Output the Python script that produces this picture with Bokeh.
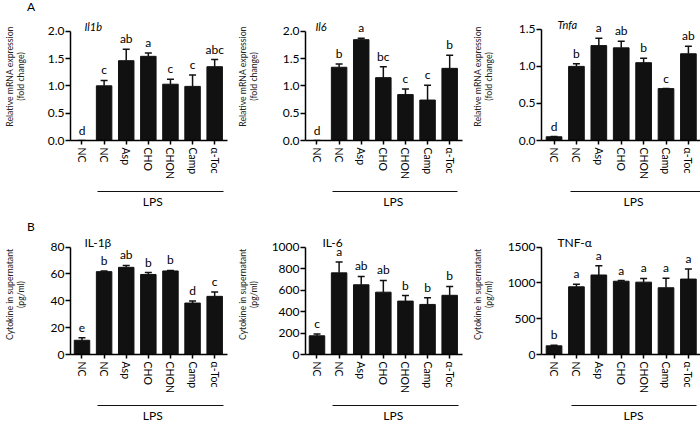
from bokeh.plotting import figure
from bokeh.models import (ColumnDataSource, FixedTicker, LinearAxis, Whisker, TeeHead,
                          LabelSet, Label, Range1d, NumeralTickFormatter, Div)
from bokeh.layouts import column, row
from bokeh.embed import file_html
from bokeh.resources import INLINE
from bokeh.core.properties import value

# ---------------- data ----------------
groups = ["NC", "NC", "Asp", "CHO", "CHON", "Camp", "α-Toc"]

il1b_mean = [0.0, 1.00, 1.46, 1.54, 1.03, 0.99, 1.35]
il1b_err = [0.0, 0.10, 0.21, 0.06, 0.09, 0.21, 0.13]
il1b_sig = ["d", "c", "ab", "a", "c", "c", "abc"]

il6_mean = [0.0, 1.34, 1.845, 1.15, 0.84, 0.74, 1.32]
il6_err = [0.0, 0.06, 0.025, 0.20, 0.10, 0.27, 0.24]
il6_sig = ["d", "b", "a", "bc", "c", "c", "b"]

tnfa_mean = [0.05, 1.00, 1.28, 1.25, 1.05, 0.70, 1.17]
tnfa_err = [0.003, 0.035, 0.10, 0.09, 0.06, 0.0, 0.10]
tnfa_sig = ["d", "b", "a", "ab", "b", "c", "ab"]

il1b_prot_mean = [10.6, 61.7, 64.9, 59.6, 62.2, 38.3, 43.3]
il1b_prot_err = [1.8, 0.5, 1.4, 1.4, 0.4, 1.6, 3.3]
il1b_prot_sig = ["e", "b", "ab", "b", "b", "d", "c"]

il6_prot_mean = [174, 760, 649, 580, 497, 466, 551]
il6_prot_err = [17, 100, 77, 109, 52, 63, 83]
il6_prot_sig = ["c", "a", "ab", "ab", "b", "b", "b"]

tnf_prot_mean = [121, 945, 1110, 1023, 1010, 932, 1053]
tnf_prot_err = [9, 35, 130, 9, 52, 134, 139]
tnf_prot_sig = ["b", "a", "a", "a", "a", "a", "a"]

mrna_ticks = [0, 0.5, 1.0, 1.5, 2.0]
tnfa_ticks = [0, 0.5, 1.0, 1.5]
il1b_prot_ticks = [0, 20, 40, 60, 80]
il6_prot_ticks = [0, 200, 400, 600, 800, 1000]
tnf_prot_ticks = [0, 500, 1000, 1500]

mrna_ylabel = "Relative mRNA expression\n(fold change)"
prot_ylabel = "Cytokine in supernatant\n(pg/ml)"
group_label = "LPS"

FONT = "Lato"
INK = "#111111"
SPAN = 7.1


def panel(title, title_italic, title_dx, mean, err, sig, ticks, fmt, ylabel, ylab_standoff,
          W, H, L, R, B, tick_px, x0, bounds, lps_at):
    ymax = ticks[-1]
    frame_h = H - B
    # the frame reaches the top of the figure; the top tick sits tick_px below it
    y_end = ymax * frame_h / (frame_h - tick_px)
    p = figure(width=W, height=H, x_range=Range1d(x0, x0 + SPAN),
               y_range=Range1d(0, y_end), output_backend="svg",
               toolbar_location=None, min_border_left=L, min_border_right=R,
               min_border_top=0, min_border_bottom=B)
    p.grid.visible = False
    p.outline_line_color = None
    p.background_fill_color = "white"
    p.border_fill_color = "white"

    xs = list(range(len(groups)))
    tops = [m + e for m, e in zip(mean, err)]
    src = ColumnDataSource(dict(x=xs, mean=mean, top=tops, sig=sig))
    p.vbar(x="x", top="mean", width=0.7, source=src,
           fill_color=INK, line_color=INK, line_width=1)
    p.add_layout(Whisker(source=src, base="x", lower="mean", upper="top",
                         dimension="height", line_color=INK, line_width=1.5,
                         upper_head=TeeHead(size=7, line_width=1.5, line_color=INK),
                         lower_head=None))
    p.add_layout(LabelSet(source=src, x="x", y="top", text="sig", y_offset=6,
                          text_align="center", text_baseline="alphabetic",
                          text_font=value(FONT), text_font_size="12px",
                          text_color="#000000"))

    ya = p.yaxis[0]
    ya.bounds = (0, ymax)
    ya.ticker = FixedTicker(ticks=ticks)
    ya.formatter = NumeralTickFormatter(format=fmt)
    ya.major_tick_out = 5
    ya.major_tick_in = 0
    ya.minor_tick_out = 0
    ya.minor_tick_in = 0
    ya.axis_line_width = 1.5
    ya.major_tick_line_width = 1.5
    ya.major_label_standoff = 1
    ya.major_label_text_font = FONT
    ya.major_label_text_font_size = "12px"
    ya.major_label_text_color = "black"
    ya.axis_label = ylabel
    ya.axis_label_standoff = ylab_standoff
    ya.axis_label_text_font = FONT
    ya.axis_label_text_font_size = "8.7px"
    ya.axis_label_text_font_style = "normal"
    ya.axis_label_text_line_height = 1.0
    ya.axis_label_text_color = "#222222"

    xa = p.xaxis[0]
    xa.ticker = FixedTicker(ticks=xs)
    xa.major_label_overrides = {i: g for i, g in enumerate(groups)}
    xa.major_label_orientation = "vertical"
    xa.major_tick_out = 4
    xa.major_tick_in = 0
    xa.minor_tick_out = 0
    xa.minor_tick_in = 0
    xa.axis_line_width = 1.5
    xa.major_tick_line_width = 1.5
    xa.major_label_standoff = 3
    xa.major_label_text_font = FONT
    xa.major_label_text_font_size = "10.5px"
    xa.major_label_text_color = "black"
    # small blank label: spacing between the tick labels and the LPS bar
    xa.axis_label = " "
    xa.axis_label_standoff = 1
    xa.axis_label_text_font_size = "5px"

    # LPS bracket: an axis line limited to the LPS groups, labelled by one tick label
    lps = LinearAxis(bounds=bounds, ticker=FixedTicker(ticks=[lps_at]),
                     major_label_overrides={lps_at: group_label},
                     axis_line_width=1.2, axis_line_color=INK,
                     major_tick_out=0, major_tick_in=0,
                     minor_tick_out=0, minor_tick_in=0,
                     major_tick_line_color=None,
                     major_label_standoff=2,
                     major_label_text_font=FONT,
                     major_label_text_font_size="12px",
                     major_label_text_color="black")
    p.add_layout(lps, "below")

    p.add_layout(Label(x=x0, y=ymax, x_offset=title_dx, y_offset=5,
                       text=title, text_font=FONT,
                       text_font_size="11px" if title_italic else "12px",
                       text_font_style="italic" if title_italic else "normal",
                       text_baseline="alphabetic", text_color="black"))
    return p


# column geometry: (width, left border, right border, x start)
C1 = (233, 51, 6, -0.52)
C2 = (235, 53, 6, -0.52)
C3 = (232, 56, 0, -0.56)

# row 1: figure top at 12 px, zero line at 149 px, bottom border 62 px
p1 = panel("Il1b", True, 14, il1b_mean, il1b_err, il1b_sig, mrna_ticks, "0.0", mrna_ylabel, 19,
           C1[0], 199, C1[1], C1[2], 62, 20, C1[3], (0.7, 6.38), 3.2)
p2 = panel("Il6", True, 10, il6_mean, il6_err, il6_sig, mrna_ticks, "0.0", mrna_ylabel, 21,
           C2[0], 199, C2[1], C2[2], 62, 20, C2[3], (0.7, 6.35), 3.45)
p3 = panel("Tnfa", True, 16, tnfa_mean, tnfa_err, tnfa_sig, tnfa_ticks, "0.0", mrna_ylabel, 22,
           C3[0], 199, C3[1], C3[2], 62, 18, C3[3], (0.75, 6.54), 3.55)
# row 2: figure top at 234 px, zero line at 363 px, bottom border 62 px
p4 = panel("IL-1β", False, 14, il1b_prot_mean, il1b_prot_err, il1b_prot_sig, il1b_prot_ticks,
           "0", prot_ylabel, 22, C1[0], 191, C1[1], C1[2], 62, 13.5, C1[3], (0.7, 6.38), 3.2)
p5 = panel("IL-6", False, 17, il6_prot_mean, il6_prot_err, il6_prot_sig, il6_prot_ticks,
           "0", prot_ylabel, 10, C2[0], 191, C2[1], C2[2], 62, 13.5, C2[3], (0.72, 6.4), 3.45)
p6 = panel("TNF-α", False, 16, tnf_prot_mean, tnf_prot_err, tnf_prot_sig, tnf_prot_ticks,
           "0", prot_ylabel, 11, C3[0], 191, C3[1], C3[2], 62, 13.5, C3[3], (0.78, 6.35), 3.55)

head_a = Div(text="A", width=700, height=12, margin=0,
             styles={"font-family": "Lato", "font-size": "12px", "line-height": "14px",
                     "padding-left": "27px", "color": "black"})
head_b = Div(text="B", width=700, height=23, margin=0,
             styles={"font-family": "Lato", "font-size": "12px", "line-height": "14px",
                     "padding-left": "27px", "padding-top": "9px", "color": "black"})

layout = column(head_a, row(p1, p2, p3), head_b, row(p4, p5, p6))

open("out.html", "w").write(file_html(layout, INLINE))
